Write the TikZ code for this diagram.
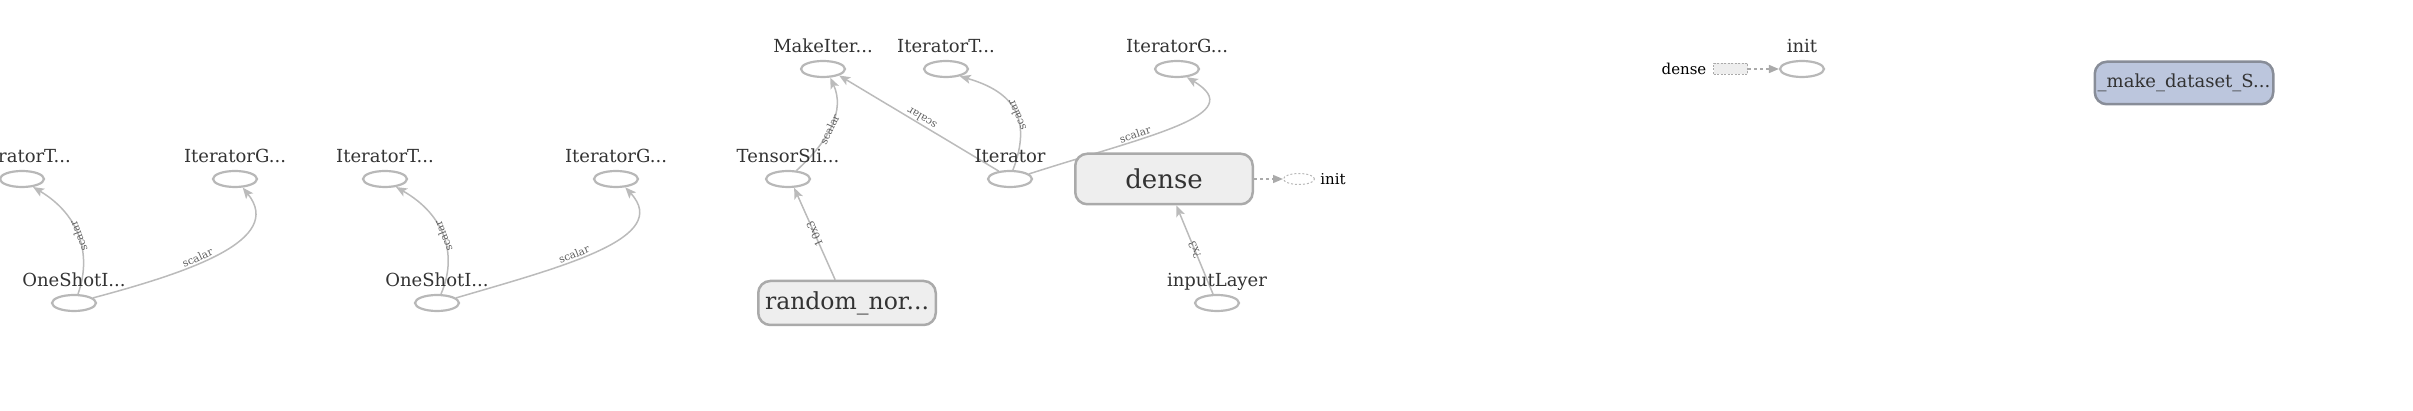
\documentclass[tikz,border=0pt]{standalone}
\usepackage{fontspec}
\setmainfont{DejaVu Serif}
\usetikzlibrary{shapes.geometric,arrows.meta}
\pgfdeclarelayer{bg}
\pgfsetlayers{bg,main}
\definecolor{labc}{RGB}{51,51,51}
\definecolor{elabc}{RGB}{95,95,95}
\definecolor{edgec}{RGB}{187,187,187}
\definecolor{ellc}{RGB}{184,184,184}
\definecolor{boxfill}{RGB}{238,238,238}
\definecolor{boxdraw}{RGB}{170,170,170}
\definecolor{bluefill}{RGB}{188,198,221}
\definecolor{bluedraw}{RGB}{136,141,152}
\tikzset{
  opnode/.style={ellipse, draw=ellc, line width=2.2pt, minimum width=44pt, minimum height=16pt, inner sep=0pt, fill=white},
  oplab/.style={font=\fontsize{18}{21}\selectfont, text=labc, inner sep=0pt, anchor=base},
  conn/.style={draw=edgec, line width=1.5pt, -{Stealth[length=11pt,width=9pt,inset=2.5pt]}},
  elabel/.style={font=\fontsize{10.5}{12}\selectfont, text=elabc, sloped, allow upside down, inner sep=1pt},
  metabox/.style={rectangle, rounded corners=12pt, draw=boxdraw, fill=boxfill, line width=2.5pt, text=labc, inner sep=0pt},
  dashconn/.style={draw=boxdraw, line width=1.5pt, dash pattern=on 3pt off 3pt, -{Triangle[length=10pt,width=8pt]}},
  smalltxt/.style={font=\fontsize{15}{17}\selectfont, text=black, inner sep=0pt}
}
\begin{document}
\begin{tikzpicture}[x=1pt,y=-1pt]
\useasboundingbox (0,0) rectangle (2413,411);
\clip (0,0) rectangle (2413,411);

% group 1
\node[opnode] (IT1) at (22,179) {};
\node[oplab] (IT1l) at (22,163) {IteratorT...};
\node[opnode] (IG1) at (235,179) {};
\node[oplab] (IG1l) at (235,163) {IteratorG...};
\node[opnode] (OS1) at (74,303) {};
\node[oplab] (OS1l) at (74,287) {OneShotI...};

% group 2
\node[opnode] (IT2) at (385,179) {};
\node[oplab] (IT2l) at (385,163) {IteratorT...};
\node[opnode] (IG2) at (616,179) {};
\node[oplab] (IG2l) at (616,163) {IteratorG...};
\node[opnode] (OS2) at (437,303) {};
\node[oplab] (OS2l) at (437,287) {OneShotI...};

% group 3
\node[opnode] (MI) at (823,69) {};
\node[oplab] (MIl) at (823,53) {MakeIter...};
\node[opnode] (IT3) at (946,69) {};
\node[oplab] (IT3l) at (946,53) {IteratorT...};
\node[opnode] (IG3) at (1177,69) {};
\node[oplab] (IG3l) at (1177,53) {IteratorG...};
\node[opnode] (TS) at (788,179) {};
\node[oplab] (TSl) at (788,163) {TensorSli...};
\node[opnode] (ITR) at (1010,179) {};
\node[oplab] (ITRl) at (1010,163) {Iterator};
\node[metabox, minimum width=177.5pt, minimum height=44pt, font=\fontsize{23.5}{26}\selectfont] (RN) at (847,303) {random\_nor...};
\node[metabox, minimum width=177.5pt, minimum height=50.5pt, font=\fontsize{26}{30}\selectfont] (DN) at (1164,179) {dense};
\node[opnode] (IL) at (1217,303) {};
\node[oplab] (ILl) at (1217,287) {inputLayer};
\node[ellipse, draw=ellc, line width=1pt, dash pattern=on 2pt off 2pt, minimum width=31pt, minimum height=11pt, inner sep=0pt, fill=white] (SI) at (1299,179) {};
\node[smalltxt] (SIl) at (1333,179) {init};

% legend-like group
\node[smalltxt] (LD) at (1684,69) {dense};
\node[rectangle, draw=boxdraw, fill=boxfill, line width=1pt, dash pattern=on 2pt off 1.5pt, minimum width=34pt, minimum height=11pt, inner sep=0pt] (LR) at (1730.5,69) {};
\node[opnode] (LI) at (1802,69) {};
\node[oplab] (LIl) at (1802,53) {init};

% make dataset
\node[rectangle, rounded corners=12pt, draw=bluedraw, fill=bluefill, line width=2.5pt, text=labc, inner sep=0pt, minimum width=178.5pt, minimum height=42.5pt, font=\fontsize{18}{21}\selectfont] (MD) at (2184,83) {\_make\_dataset\_S...};

\begin{pgfonlayer}{bg}
\draw[conn] (OS1.66) .. controls (92,255) and (80,215) .. (IT1.-36) node[elabel,pos=0.5] {scalar};
\draw[conn] (OS1.15) .. controls (190,272) and (285,240) .. (IG1.-48) node[elabel,pos=0.4,above] {scalar};
\draw[conn] (OS2.66) .. controls (458,255) and (445,215) .. (IT2.-36) node[elabel,pos=0.5] {scalar};
\draw[conn] (OS2.15) .. controls (565,266) and (672,238) .. (IG2.-42) node[elabel,pos=0.4,above] {scalar};
\draw[conn] (RN.117) -- (TS.-55) node[elabel,pos=0.5] {10x3};
\draw[conn] (TS.45) .. controls (830,140) and (845,110) .. (MI.-50) node[elabel,pos=0.45] {scalar};
\draw[conn] (ITR.145) -- (MI.-22) node[elabel,pos=0.5,below] {scalar};
\draw[conn] (ITR.72) .. controls (1032,120) and (1015,92) .. (IT3.-28) node[elabel,pos=0.45] {scalar};
\draw[conn] (ITR.15) .. controls (1150,135) and (1250,115) .. (IG3.-40) node[elabel,pos=0.33,above] {scalar};
\draw[conn] (IL.114) -- (DN.-65) node[elabel,pos=0.5] {?x3};
\draw[dashconn] (DN.east) -- (SI.west);
\draw[dashconn] (LR.east) -- (LI.west);
\end{pgfonlayer}
\end{tikzpicture}
\end{document}
